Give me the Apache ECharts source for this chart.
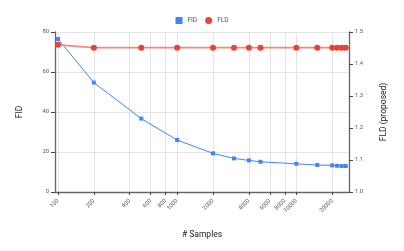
<!DOCTYPE html>
<html><head><meta charset="utf-8">
<script src="https://cdn.jsdelivr.net/npm/echarts@6/dist/echarts.min.js"></script>
<style>html,body{margin:0;padding:0;background:#fff}#c{width:404px;height:251px}</style>
</head><body><div id="c"></div>
<script>
const samples = [100, 200, 500, 1000, 2000, 3000, 4000, 5000, 10000, 15000, 20000, 22000, 24000, 26000];
const fid = [76.5, 54.7, 36.7, 26.0, 19.3, 16.8, 15.8, 15.1, 14.1, 13.5, 13.3, 13.1, 13.0, 13.0];
const fld = [1.46, 1.451, 1.451, 1.451, 1.451, 1.451, 1.451, 1.451, 1.451, 1.451, 1.451, 1.451, 1.451, 1.451];
const xTicks = [100, 200, 400, 600, 800, 1000, 2000, 4000, 6000, 8000, 10000, 20000];

const chart = echarts.init(document.getElementById('c'), null, {renderer: 'canvas'});
const axisLine = {show: true, lineStyle: {color: '#666', width: 1.3}};
chart.setOption({
  animation: false,
  textStyle: {fontFamily: 'Roboto, Arial, sans-serif'},
  legend: {
    top: 12, left: 'center', itemGap: 8, itemWidth: 7, itemHeight: 7,
    textStyle: {fontSize: 6.5, color: '#555'},
    data: [{name: 'FID', icon: 'rect'}, {name: 'FLD', icon: 'circle'}]
  },
  grid: {left: 55, right: 55, top: 32, bottom: 59},
  xAxis: {
    type: 'log', logBase: 10, min: 94.4, max: 27670,
    name: '# Samples', nameLocation: 'middle', nameGap: 38,
    nameTextStyle: {fontSize: 8.5, color: '#222'},
    axisLine: axisLine,
    axisTick: {show: true, length: 3, customValues: xTicks, lineStyle: {color: '#444'}},
    axisLabel: {customValues: xTicks, rotate: 45, fontSize: 5.8, color: '#555', margin: 8,
      formatter: v => String(Math.round(v))},
    splitLine: {show: true, lineStyle: {color: '#e4e4e4', width: 1}},
    minorTick: {show: false}
  },
  yAxis: [{
    type: 'value', min: 0, max: 80, interval: 20,
    name: 'FID', nameLocation: 'middle', nameGap: 31, nameRotate: 90,
    nameTextStyle: {fontSize: 8.5, color: '#222'},
    axisLine: axisLine,
    axisTick: {show: true, length: 4, lineStyle: {color: '#444'}},
    axisLabel: {fontSize: 5.8, color: '#555', margin: 6},
    splitLine: {show: true, lineStyle: {color: '#e4e4e4', width: 1}}
  }, {
    type: 'value', min: 1.0, max: 1.5, interval: 0.1,
    name: 'FLD (proposed)', nameLocation: 'middle', nameGap: 30, nameRotate: 90,
    nameTextStyle: {fontSize: 8.5, color: '#222'},
    axisLine: axisLine,
    axisTick: {show: true, length: 4, lineStyle: {color: '#444'}},
    axisLabel: {fontSize: 5.8, color: '#555', margin: 6, formatter: v => v.toFixed(1)},
    splitLine: {show: false}
  }],
  series: [{
    name: 'FID', type: 'line', yAxisIndex: 0,
    data: samples.map((s, i) => [s, fid[i]]),
    symbol: 'rect', symbolSize: 4, showSymbol: true,
    itemStyle: {color: '#4285f4'},
    lineStyle: {color: '#4285f4', width: 1}
  }, {
    name: 'FLD', type: 'line', yAxisIndex: 1,
    data: samples.map((s, i) => [s, fld[i]]),
    symbol: 'circle', symbolSize: 6, showSymbol: true,
    itemStyle: {color: '#ea4335'},
    lineStyle: {color: '#f08a80', width: 1.8}
  }]
});
</script></body></html>
